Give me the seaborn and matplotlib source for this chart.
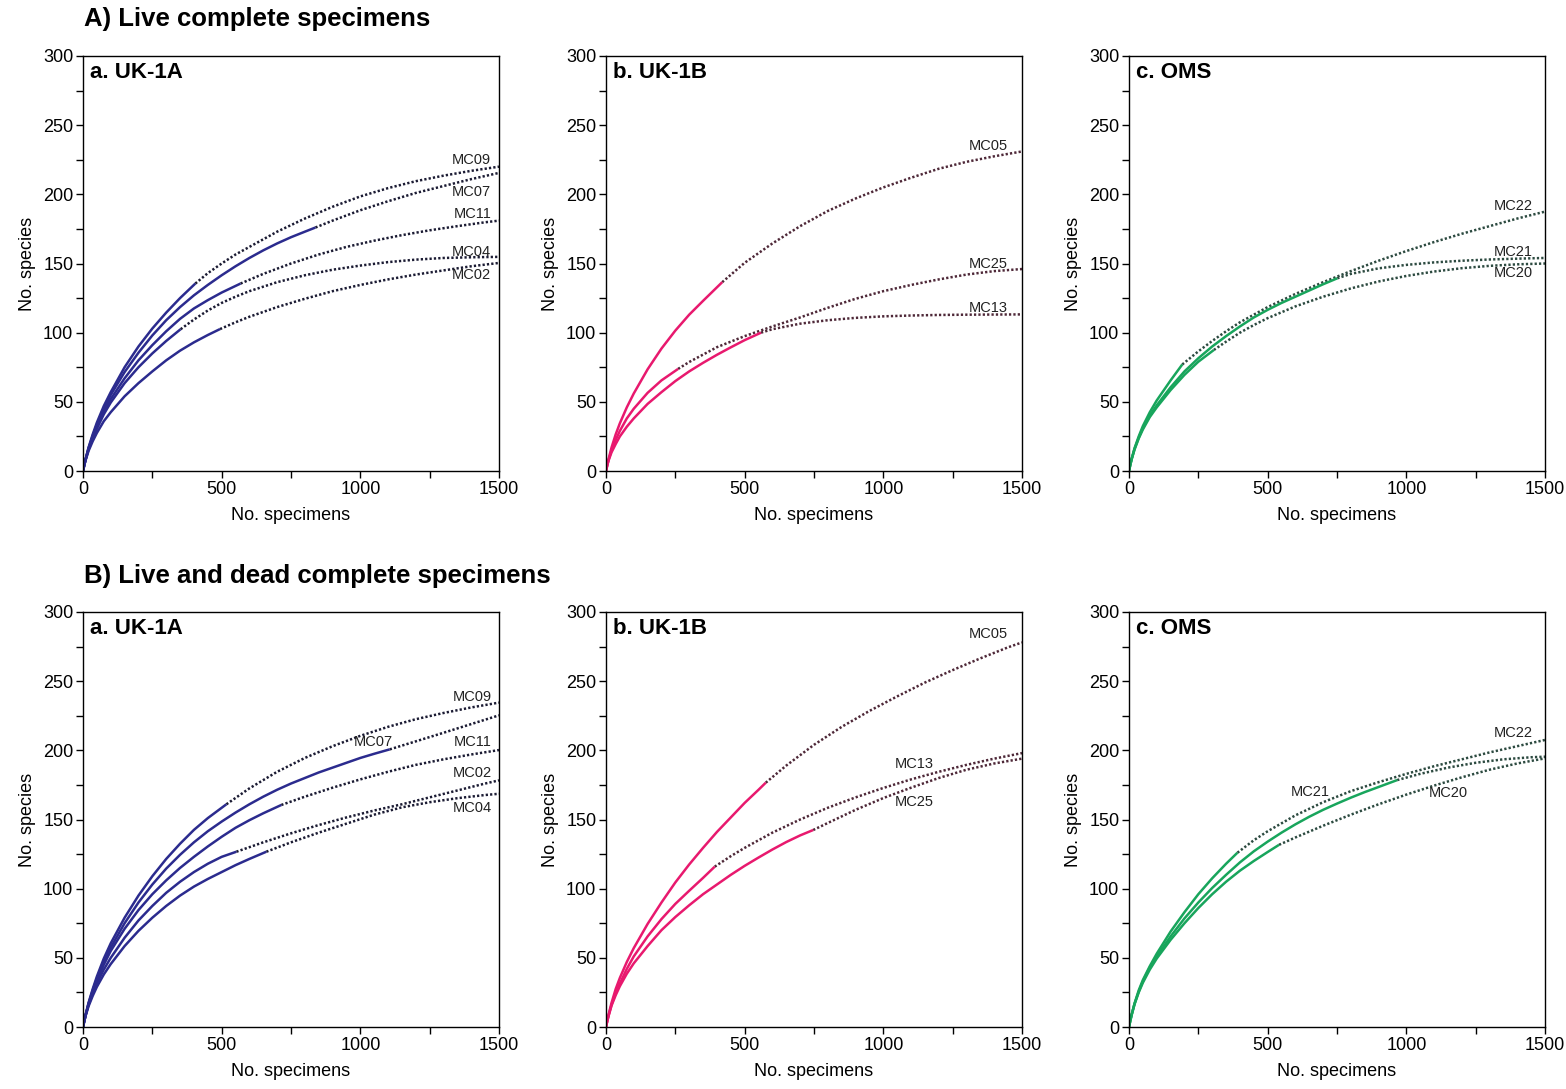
import matplotlib
matplotlib.use("Agg")
import matplotlib.pyplot as plt
from matplotlib.ticker import MultipleLocator
import pandas as pd
import seaborn as sns

# ---------------------------------------------------------------------------
# Rarefaction (observed) and extrapolation curves: (No. specimens, No. species)
# ---------------------------------------------------------------------------

# A) Live complete specimens -- a. UK-1A
A_UK1A_MC09_OBS = [(0, 0), (5, 4.8), (10, 9), (20, 17), (35, 26.5), (50, 35), (75, 47), (100, 57), (150, 75),
                   (200, 90), (250, 103), (300, 114.5), (350, 125), (405, 135.5)]
A_UK1A_MC09_EXT = [(405, 135.5), (450, 143), (500, 150), (550, 156.5), (600, 162), (650, 167.5), (700, 173),
                   (800, 182.5), (900, 191), (1000, 198.5), (1100, 204.5), (1200, 209.5), (1300, 213.5),
                   (1400, 217), (1500, 220)]
A_UK1A_MC07_OBS = [(0, 0), (5, 4.8), (10, 9), (20, 16.5), (35, 25.5), (50, 33.5), (75, 45), (100, 55),
                   (150, 71.5), (200, 85.5), (250, 98), (300, 109), (350, 118.5), (400, 127), (450, 134.5),
                   (500, 141.5), (550, 148), (600, 154), (650, 159.5), (700, 164.5), (750, 169), (800, 173),
                   (838, 176)]
A_UK1A_MC07_EXT = [(838, 176), (900, 181), (1000, 188.5), (1100, 195), (1200, 201), (1300, 206),
                   (1400, 211), (1500, 215.5)]
A_UK1A_MC11_OBS = [(0, 0), (5, 4.7), (10, 8.8), (20, 16), (35, 24.5), (50, 32), (75, 43), (100, 52),
                   (150, 67), (200, 80), (250, 91), (300, 101), (350, 110), (400, 117.5), (450, 123.5),
                   (500, 129), (568, 135.5)]
A_UK1A_MC11_EXT = [(568, 135.5), (650, 142.5), (750, 150), (850, 156.5), (950, 162), (1050, 166.5),
                   (1150, 170.5), (1250, 174), (1350, 177), (1450, 179.8), (1500, 181)]
A_UK1A_MC04_OBS = [(0, 0), (5, 4.7), (10, 8.6), (20, 15.5), (35, 23.5), (50, 30.5), (75, 41), (100, 49.5),
                   (150, 63.5), (200, 75), (250, 85), (300, 94), (352, 102.5)]
A_UK1A_MC04_EXT = [(352, 102.5), (400, 109.5), (450, 116), (500, 121.5), (550, 126), (600, 130),
                   (700, 136.5), (800, 141.5), (900, 145.5), (1000, 148.5), (1100, 151), (1200, 152.8),
                   (1300, 154), (1400, 154.5), (1500, 154.8)]
A_UK1A_MC02_OBS = [(0, 0), (5, 4.5), (10, 8.2), (20, 14.5), (35, 21.5), (50, 27.5), (75, 36), (100, 42.5),
                   (150, 54), (200, 63.5), (250, 72), (300, 80), (350, 87), (400, 93), (450, 98.3),
                   (494, 102.6)]
A_UK1A_MC02_EXT = [(494, 102.6), (550, 107.5), (600, 111.5), (700, 118.5), (800, 124.5), (900, 130),
                   (1000, 134.5), (1100, 138.5), (1200, 142), (1300, 145), (1400, 148), (1500, 150.4)]

# A) Live complete specimens -- b. UK-1B
A_UK1B_MC05_OBS = [(0, 0), (5, 4.8), (10, 9.2), (20, 17), (35, 26.5), (50, 34.5), (75, 46), (100, 56),
                   (150, 73.5), (200, 88.5), (250, 101.5), (300, 113), (350, 123), (419, 136.5)]
A_UK1B_MC05_EXT = [(419, 136.5), (500, 150.5), (600, 164.5), (700, 177), (800, 188), (900, 197),
                   (1000, 205), (1100, 212), (1200, 218.5), (1300, 223.5), (1400, 227.5), (1500, 231)]
A_UK1B_MC25_OBS = [(0, 0), (5, 4.6), (10, 8.5), (20, 15), (35, 22.5), (50, 29), (75, 38), (100, 45),
                   (150, 56.5), (200, 65.5), (260, 73.8)]
A_UK1B_MC25_EXT = [(260, 73.8), (300, 78.8), (400, 89.5), (500, 97.5), (600, 104.5), (700, 111),
                   (800, 118), (900, 124.5), (1000, 130), (1100, 134.5), (1200, 138.5), (1300, 142),
                   (1400, 144.5), (1500, 146)]
A_UK1B_MC13_OBS = [(0, 0), (5, 4.4), (10, 8), (20, 13.5), (35, 19.5), (50, 25), (75, 32), (100, 38),
                   (150, 48.5), (200, 57), (250, 65), (300, 72), (350, 78.2), (400, 84), (450, 89.4),
                   (500, 94.6), (559, 100)]
A_UK1B_MC13_EXT = [(559, 100), (600, 102.5), (700, 106.5), (800, 109), (900, 110.7), (1000, 111.8),
                   (1100, 112.4), (1200, 112.8), (1300, 113), (1500, 113.2)]

# A) Live complete specimens -- c. OMS
A_OMS_MC22_OBS = [(0, 0), (5, 4.8), (10, 9), (20, 16.5), (35, 25), (50, 32.5), (75, 42.5), (100, 51),
                  (150, 65.5), (192, 77)]
A_OMS_MC22_EXT = [(192, 77), (250, 86.5), (300, 94), (350, 101), (400, 107.5), (500, 118.5), (600, 128),
                  (700, 136.5), (800, 144.5), (900, 152), (1000, 159), (1100, 165.5), (1200, 171.5),
                  (1300, 177), (1400, 182.5), (1500, 187.5)]
A_OMS_MC21_OBS = [(0, 0), (5, 4.8), (10, 9), (20, 16), (35, 24), (50, 31), (75, 40), (100, 47.5),
                  (150, 60.5), (200, 72), (250, 81.5), (300, 90), (350, 97.5), (400, 104.5), (450, 111),
                  (500, 116.5), (550, 121.5), (600, 126), (650, 130.5), (700, 135), (751, 139.3)]
A_OMS_MC21_EXT = [(751, 139.3), (800, 142.5), (900, 146.5), (1000, 149), (1100, 150.8), (1200, 152),
                  (1300, 152.9), (1400, 153.5), (1500, 154)]
A_OMS_MC20_OBS = [(0, 0), (5, 4.7), (10, 8.8), (20, 15.5), (35, 23.5), (50, 30), (75, 39), (100, 46),
                  (150, 58.5), (200, 69.5), (250, 79), (306, 87.5)]
A_OMS_MC20_EXT = [(306, 87.5), (350, 93.5), (400, 100), (450, 105.5), (500, 110.5), (600, 119), (700, 126),
                  (800, 132), (900, 137), (1000, 141), (1100, 144.2), (1200, 146.6), (1300, 148.3),
                  (1400, 149.4), (1500, 150)]

# B) Live and dead complete specimens -- a. UK-1A
B_UK1A_MC09_OBS = [(0, 0), (5, 4.8), (10, 9.3), (20, 17.5), (35, 27.5), (50, 36.5), (75, 49.5), (100, 60.5),
                   (150, 79), (200, 95), (250, 109), (300, 121.5), (350, 132.5), (400, 142.5), (450, 151),
                   (517, 161)]
B_UK1A_MC09_EXT = [(517, 161), (600, 172.5), (700, 184.5), (800, 194.5), (900, 203), (1000, 210.5),
                   (1100, 217), (1200, 222.5), (1300, 227), (1400, 231), (1500, 234.5)]
B_UK1A_MC07_OBS = [(0, 0), (5, 4.8), (10, 9.2), (20, 17), (35, 26.5), (50, 35), (75, 47), (100, 57.5),
                   (150, 75), (200, 90), (250, 103), (300, 114.5), (350, 124.5), (400, 133.5), (450, 141.5),
                   (500, 148.5), (550, 155), (600, 161), (650, 166.5), (700, 171.5), (750, 176), (800, 180),
                   (850, 184), (900, 187.5), (950, 191), (1000, 194.5), (1050, 197.5), (1106, 200.7)]
B_UK1A_MC07_EXT = [(1106, 200.7), (1200, 206.5), (1300, 212.7), (1400, 219), (1500, 225.3)]
B_UK1A_MC11_OBS = [(0, 0), (5, 4.8), (10, 9), (20, 16.5), (35, 25.5), (50, 33.5), (75, 45), (100, 55),
                   (150, 71), (200, 84.5), (250, 96), (300, 106), (350, 115), (400, 123), (450, 130.5),
                   (500, 137.5), (550, 144), (600, 149.5), (650, 154.5), (715, 160.5)]
B_UK1A_MC11_EXT = [(715, 160.5), (800, 166.5), (900, 173), (1000, 179), (1100, 184.5), (1200, 189.5),
                   (1300, 193.5), (1400, 197), (1500, 200.2)]
B_UK1A_MC02_OBS = [(0, 0), (5, 4.7), (10, 8.8), (20, 16), (35, 24), (50, 31.5), (75, 41.5), (100, 50),
                   (150, 64.5), (200, 77), (250, 87.5), (300, 97), (350, 105), (400, 112), (450, 118),
                   (500, 123), (553, 126.7)]
B_UK1A_MC02_EXT = [(553, 126.7), (650, 133.5), (750, 140), (850, 146), (950, 151.5), (1050, 156.5),
                   (1150, 161), (1250, 166), (1350, 171), (1450, 176), (1500, 178.3)]
B_UK1A_MC04_OBS = [(0, 0), (5, 4.6), (10, 8.5), (20, 15), (35, 22.5), (50, 29), (75, 38), (100, 45.5),
                   (150, 58.5), (200, 69.5), (250, 79), (300, 87.5), (350, 95), (400, 101.5), (450, 107),
                   (500, 112), (550, 117), (600, 121.5), (661, 126.7)]
B_UK1A_MC04_EXT = [(661, 126.7), (750, 133.5), (850, 140.5), (950, 147), (1050, 153.5), (1150, 158.8),
                   (1250, 162.5), (1350, 165.4), (1450, 167.7), (1500, 168.6)]

# B) Live and dead complete specimens -- b. UK-1B
B_UK1B_MC05_OBS = [(0, 0), (5, 4.9), (10, 9.5), (20, 17.5), (35, 27.5), (50, 35.5), (75, 47), (100, 57),
                   (150, 74.5), (200, 90), (250, 104.5), (300, 117.5), (350, 129.5), (400, 141),
                   (450, 151.5), (500, 162), (550, 171.5), (576, 176.6)]
B_UK1B_MC05_EXT = [(576, 176.6), (650, 189), (750, 204), (850, 217), (950, 228.5), (1050, 239),
                   (1150, 249), (1250, 258), (1350, 266.5), (1450, 274.5), (1500, 278)]
B_UK1B_MC13_OBS = [(0, 0), (5, 4.7), (10, 8.8), (20, 16), (35, 24.5), (50, 31.5), (75, 42), (100, 51),
                   (150, 65.5), (200, 78), (250, 89), (300, 98.5), (350, 107.8), (392, 115.9)]
B_UK1B_MC13_EXT = [(392, 115.9), (450, 123.5), (500, 129.5), (600, 140.5), (700, 150), (800, 158.5),
                   (900, 166), (1000, 172.8), (1100, 179), (1200, 184.5), (1300, 189.5), (1400, 194),
                   (1500, 198)]
B_UK1B_MC25_OBS = [(0, 0), (5, 4.6), (10, 8.5), (20, 15.5), (35, 23), (50, 29.5), (75, 38.5), (100, 46),
                   (150, 58.5), (200, 70), (250, 79.5), (300, 88), (350, 96), (400, 103), (450, 110),
                   (500, 116.5), (550, 122.5), (600, 128.3), (650, 133.7), (700, 138.5), (747, 142.4)]
B_UK1B_MC25_EXT = [(747, 142.4), (800, 147.5), (900, 157), (1000, 165.5), (1100, 173), (1200, 180),
                   (1300, 186), (1400, 190.5), (1500, 194)]

# B) Live and dead complete specimens -- c. OMS
B_OMS_MC22_OBS = [(0, 0), (5, 4.9), (10, 9.3), (20, 17), (35, 26.5), (50, 34), (75, 44), (100, 53),
                  (150, 69), (200, 83), (250, 96), (300, 107.5), (350, 118), (391, 126)]
B_OMS_MC22_EXT = [(391, 126), (450, 135), (500, 141.5), (600, 153), (700, 162.5), (800, 170.5), (900, 177),
                  (1000, 183), (1100, 188.5), (1200, 193.5), (1300, 198.5), (1400, 203), (1500, 207.5)]
B_OMS_MC21_OBS = [(0, 0), (5, 4.8), (10, 9.2), (20, 16.8), (35, 25.5), (50, 33), (75, 43), (100, 51),
                  (150, 65.5), (200, 78.5), (250, 90), (300, 100.5), (350, 110), (400, 119), (450, 127),
                  (500, 134), (550, 140.5), (600, 146.5), (650, 152), (700, 157), (750, 161.5), (800, 165.8),
                  (850, 169.8), (900, 173.5), (967, 178.5)]
B_OMS_MC21_EXT = [(967, 178.5), (1050, 183), (1150, 187.5), (1250, 191), (1350, 193.5), (1450, 195),
                  (1500, 195.4)]
B_OMS_MC20_OBS = [(0, 0), (5, 4.8), (10, 9), (20, 16.5), (35, 25), (50, 32), (75, 41.5), (100, 49.5),
                  (150, 63), (200, 75), (250, 86), (300, 96), (350, 105), (400, 113), (450, 120),
                  (500, 126.5), (541, 131.7)]
B_OMS_MC20_EXT = [(541, 131.7), (600, 137), (700, 145.5), (800, 153.5), (900, 161), (1000, 168),
                  (1100, 174.5), (1200, 180.5), (1300, 186), (1400, 190.5), (1500, 194.2)]

SECTION_TITLES = ["A) Live complete specimens", "B) Live and dead complete specimens"]
PANEL_TITLES = ["a. UK-1A", "b. UK-1B", "c. OMS"]
X_LABEL = "No. specimens"
Y_LABEL = "No. species"

# ---------------------------------------------------------------------------
# Panel contents: curves and where each sample name sits (data coordinates)
# ---------------------------------------------------------------------------
PANELS = [
    # row A
    [
        dict(curves=[("MC09", A_UK1A_MC09_OBS, A_UK1A_MC09_EXT), ("MC07", A_UK1A_MC07_OBS, A_UK1A_MC07_EXT),
                     ("MC11", A_UK1A_MC11_OBS, A_UK1A_MC11_EXT), ("MC04", A_UK1A_MC04_OBS, A_UK1A_MC04_EXT),
                     ("MC02", A_UK1A_MC02_OBS, A_UK1A_MC02_EXT)],
             labels=[("MC09", 1472, 224.5), ("MC07", 1472, 201.5), ("MC11", 1472, 186),
                     ("MC04", 1472, 158.3), ("MC02", 1472, 141.5)],
             color="#2b2b8e", dots="#1b1b33"),
        dict(curves=[("MC05", A_UK1B_MC05_OBS, A_UK1B_MC05_EXT), ("MC25", A_UK1B_MC25_OBS, A_UK1B_MC25_EXT),
                     ("MC13", A_UK1B_MC13_OBS, A_UK1B_MC13_EXT)],
             labels=[("MC05", 1450, 235), ("MC25", 1450, 149.6), ("MC13", 1450, 117.6)],
             color="#e8196e", dots="#4e2838"),
        dict(curves=[("MC22", A_OMS_MC22_OBS, A_OMS_MC22_EXT), ("MC21", A_OMS_MC21_OBS, A_OMS_MC21_EXT),
                     ("MC20", A_OMS_MC20_OBS, A_OMS_MC20_EXT)],
             labels=[("MC22", 1456, 191.6), ("MC21", 1456, 158.5), ("MC20", 1456, 142.9)],
             color="#18a55c", dots="#2c4a40"),
    ],
    # row B
    [
        dict(curves=[("MC09", B_UK1A_MC09_OBS, B_UK1A_MC09_EXT), ("MC07", B_UK1A_MC07_OBS, B_UK1A_MC07_EXT),
                     ("MC11", B_UK1A_MC11_OBS, B_UK1A_MC11_EXT), ("MC02", B_UK1A_MC02_OBS, B_UK1A_MC02_EXT),
                     ("MC04", B_UK1A_MC04_OBS, B_UK1A_MC04_EXT)],
             labels=[("MC09", 1474, 238.8), ("MC07", 1119, 206.3), ("MC11", 1474, 206.3),
                     ("MC02", 1474, 183.4), ("MC04", 1474, 158.1)],
             color="#2b2b8e", dots="#1b1b33"),
        dict(curves=[("MC05", B_UK1B_MC05_OBS, B_UK1B_MC05_EXT), ("MC13", B_UK1B_MC13_OBS, B_UK1B_MC13_EXT),
                     ("MC25", B_UK1B_MC25_OBS, B_UK1B_MC25_EXT)],
             labels=[("MC05", 1450, 283.9), ("MC13", 1183, 189.9), ("MC25", 1183, 162.4)],
             color="#e8196e", dots="#4e2838"),
        dict(curves=[("MC22", B_OMS_MC22_OBS, B_OMS_MC22_EXT), ("MC21", B_OMS_MC21_OBS, B_OMS_MC21_EXT),
                     ("MC20", B_OMS_MC20_OBS, B_OMS_MC20_EXT)],
             labels=[("MC22", 1456, 212.3), ("MC21", 725, 170.1), ("MC20", 1221, 169.4)],
             color="#18a55c", dots="#2c4a40"),
    ],
]

# ---------------------------------------------------------------------------
# Styling
# ---------------------------------------------------------------------------
sns.set_style("ticks")
plt.rcParams["font.family"] = ["Liberation Sans", "DejaVu Sans"]
for key in ["text.color", "axes.labelcolor", "xtick.color", "ytick.color", "axes.edgecolor"]:
    plt.rcParams[key] = "black"
for key in ["axes.linewidth", "xtick.major.width", "ytick.major.width",
            "xtick.minor.width", "ytick.minor.width"]:
    plt.rcParams[key] = 1.0

W, H = 1566, 1089
fig = plt.figure(figsize=(W / 100, H / 100), dpi=100)
fig.patch.set_facecolor("white")

col_left_px = [83, 606, 1129]
row_top_px = [56, 612]
ax_w_px, ax_h_px = 416, 415


def to_frame(points, name, part):
    return pd.DataFrame({"N": [p[0] for p in points], "S": [p[1] for p in points],
                         "sample": name, "part": part})


for r, row in enumerate(PANELS):
    for c, panel in enumerate(row):
        left = col_left_px[c] / W
        bottom = 1 - (row_top_px[r] + ax_h_px) / H
        ax = fig.add_axes([left, bottom, ax_w_px / W, ax_h_px / H])

        frames = []
        for name, obs, ext in panel["curves"]:
            frames.append(to_frame(ext, name, "extrapolated"))
            frames.append(to_frame(obs, name, "observed"))
        df = pd.concat(frames, ignore_index=True)

        # extrapolated parts as dotted lines, observed parts solid on top
        for name, _, _ in panel["curves"]:
            sub = df[(df["sample"] == name) & (df["part"] == "extrapolated")]
            sns.lineplot(data=sub, x="N", y="S", ax=ax, color=panel["dots"], linewidth=1.8,
                         linestyle=(0, (0.9, 0.85)), estimator=None, sort=False, legend=False)
        for name, _, _ in panel["curves"]:
            sub = df[(df["sample"] == name) & (df["part"] == "observed")]
            sns.lineplot(data=sub, x="N", y="S", ax=ax, color=panel["color"], linewidth=1.8,
                         estimator=None, sort=False, legend=False, solid_capstyle="butt",
                         solid_joinstyle="round")

        for text, lx, ly in panel["labels"]:
            ax.text(lx, ly, text, ha="right", va="center", fontsize=10.5, color="#222222")

        ax.text(0.017, 0.985, PANEL_TITLES[c], transform=ax.transAxes, ha="left", va="top",
                fontsize=16, fontweight="bold", color="black")

        ax.set_xlim(0, 1500)
        ax.set_ylim(0, 300)
        ax.xaxis.set_major_locator(MultipleLocator(500))
        ax.xaxis.set_minor_locator(MultipleLocator(250))
        ax.yaxis.set_major_locator(MultipleLocator(50))
        ax.yaxis.set_minor_locator(MultipleLocator(25))
        ax.tick_params(axis="both", which="both", direction="out", length=5, colors="black",
                       top=False, right=False)
        ax.tick_params(axis="both", which="major", labelsize=13, pad=2)
        ax.set_xlabel(X_LABEL, fontsize=13, labelpad=7)
        ax.set_ylabel(Y_LABEL, fontsize=13, labelpad=5)
        for side in ["left", "right", "top", "bottom"]:
            ax.spines[side].set_visible(True)
            ax.spines[side].set_color("black")
            ax.spines[side].set_linewidth(1.0)
        ax.set_facecolor("white")

fig.text(84 / W, 1 - 19 / H, SECTION_TITLES[0], ha="left", va="center", fontsize=18.5, fontweight="bold")
fig.text(84 / W, 1 - 576 / H, SECTION_TITLES[1], ha="left", va="center", fontsize=18.5, fontweight="bold")

fig.savefig("out.png", dpi=100, facecolor="white")
